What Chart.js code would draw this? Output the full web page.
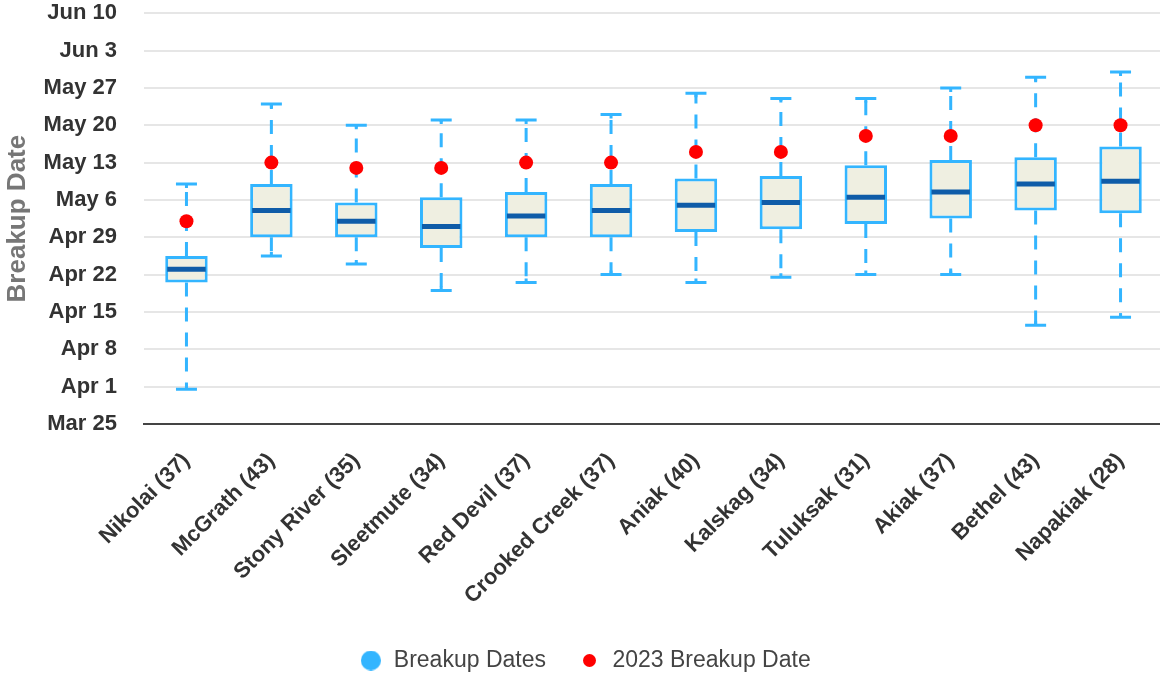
<!DOCTYPE html>
<html>
<head>
<meta charset="UTF-8">
<title>Breakup Dates</title>
<style>
	html, body { margin: 0; padding: 0; background: #fff; overflow: hidden; }
	/* the chart is a bit larger than the window, the right and bottom edges are cut off */
	#wrap { width: 1170px; height: 682px; }
</style>
</head>
<body>
	<div id="wrap"><canvas id="boxChart"></canvas></div>
</body>
<script src="https://cdn.jsdelivr.net/npm/chart.js@4.4.1/dist/chart.umd.min.js"></script>
<script type="text/javascript">
// all values are days after Mar 25
const villages = ['Nikolai (37)', 'McGrath (43)', 'Stony River (35)', 'Sleetmute (34)', 'Red Devil (37)', 'Crooked Creek (37)',
	'Aniak (40)', 'Kalskag (34)', 'Tuluksak (31)', 'Akiak (37)', 'Bethel (43)', 'Napakiak (28)'];
const whiskerLow  = [6.5, 31.5, 30, 25, 26.5, 28, 26.5, 27.5, 28, 28, 18.5, 20];
const quartile1   = [26.5, 35, 35, 33, 35, 35, 36, 36.5, 37.5, 38.5, 40, 39.5];
const medians     = [29, 40, 38, 37, 39, 40, 41, 41.5, 42.5, 43.5, 45, 45.5];
const quartile3   = [31.5, 45, 41.5, 42.5, 43.5, 45, 46, 46.5, 48.5, 49.5, 50, 52];
const whiskerHigh = [45, 60, 56, 57, 57, 58, 62, 61, 61, 63, 65, 66];
const breakup2023 = [38, 49, 48, 48, 49, 49, 51, 51, 54, 54, 56, 56];
const yTickLabels = ['Mar 25', 'Apr 1', 'Apr 8', 'Apr 15', 'Apr 22', 'Apr 29', 'May 6', 'May 13', 'May 20', 'May 27', 'Jun 3', 'Jun 10'];

const boxBlue = '#33b5ff';
const medianBlue = '#0f5ca8';
const FONT = '"Liberation Sans", Arial, sans-serif';

// legend dots of different size
function dot(r, color) {
	let c = document.createElement('canvas');
	c.width = c.height = Math.ceil(r * 2);
	let g = c.getContext('2d');
	g.fillStyle = color;
	g.beginPath();
	g.arc(c.width / 2, c.height / 2, r, 0, Math.PI * 2);
	g.fill();
	return c;
}

// whiskers + median for the box plot
const boxPlotLines = {
	id: 'boxPlotLines',
	beforeDatasetsDraw(chart) {
		let ctx = chart.ctx;
		let y = chart.scales.y;
		let bars = chart.getDatasetMeta(0).data;
		ctx.save();
		ctx.strokeStyle = boxBlue;
		ctx.lineWidth = 3;
		bars.forEach(function(bar, i) {
			let yLow = y.getPixelForValue(whiskerLow[i]);
			let yHigh = y.getPixelForValue(whiskerHigh[i]);
			ctx.setLineDash([14, 11]);
			ctx.beginPath();
			ctx.moveTo(bar.x, y.getPixelForValue(quartile1[i]));
			ctx.lineTo(bar.x, yLow);
			ctx.moveTo(bar.x, y.getPixelForValue(quartile3[i]));
			ctx.lineTo(bar.x, yHigh);
			ctx.stroke();
			ctx.setLineDash([]);
			ctx.beginPath();
			ctx.moveTo(bar.x, yLow - 4);
			ctx.lineTo(bar.x, yLow);
			ctx.moveTo(bar.x - 10.5, yLow);
			ctx.lineTo(bar.x + 10.5, yLow);
			ctx.moveTo(bar.x, yHigh + 4);
			ctx.lineTo(bar.x, yHigh);
			ctx.moveTo(bar.x - 10.5, yHigh);
			ctx.lineTo(bar.x + 10.5, yHigh);
			ctx.stroke();
		});
		ctx.restore();
	},
	afterDatasetDraw(chart, args) {
		if (args.index !== 0) return;
		let ctx = chart.ctx;
		let y = chart.scales.y;
		ctx.save();
		ctx.strokeStyle = medianBlue;
		ctx.lineWidth = 5;
		chart.getDatasetMeta(0).data.forEach(function(bar, i) {
			let ym = y.getPixelForValue(medians[i]);
			ctx.beginPath();
			ctx.moveTo(bar.x - bar.width / 2 + 2, ym);
			ctx.lineTo(bar.x + bar.width / 2 - 2, ym);
			ctx.stroke();
		});
		ctx.restore();
	}
};

let ctx = document.getElementById('boxChart');
let chart = new Chart(ctx, {
	type: 'bar',
	data: {
		labels: villages,
		datasets: [{
			label: 'Breakup Dates',
			data: quartile1.map(function(q, i) { return [q, quartile3[i]]; }),
			backgroundColor: '#efefe1',
			borderColor: boxBlue,
			borderWidth: 3,
			borderSkipped: false,
			categoryPercentage: 1,
			barPercentage: 0.5,
			order: 2
		}, {
			type: 'line',
			label: '2023 Breakup Date',
			data: breakup2023,
			showLine: false,
			pointRadius: 7,
			pointHoverRadius: 7,
			pointBackgroundColor: '#ff0000',
			pointBorderWidth: 0,
			order: 1
		}]
	},
	options: {
		responsive: true,
		maintainAspectRatio: false,
		animation: false,
		layout: { padding: { top: 2, right: 0, bottom: 0, left: 0 } },
		plugins: {
			tooltip: { enabled: false },
			legend: {
				position: 'bottom',
				labels: {
					usePointStyle: true,
					padding: 32,
					color: '#444',
					font: { family: FONT, size: 23 },
					generateLabels: function() {
						return [
							{ text: 'Breakup Dates', pointStyle: dot(10, boxBlue), fillStyle: boxBlue, strokeStyle: 'rgba(0,0,0,0)', lineWidth: 0, datasetIndex: 0, fontColor: '#444' },
							{ text: '2023 Breakup Date', pointStyle: dot(6.5, '#ff0000'), fillStyle: '#ff0000', strokeStyle: 'rgba(0,0,0,0)', lineWidth: 0, datasetIndex: 1, fontColor: '#444' }
						];
					}
				}
			}
		},
		scales: {
			x: {
				grid: { display: false },
				border: { display: true, color: '#444', width: 2 },
				ticks: {
					color: '#333',
					font: { family: FONT, size: 22, weight: 'bold' },
					minRotation: 45,
					maxRotation: 45,
					padding: 16
				},
				afterFit: function(scale) { scale.height = 193; }
			},
			y: {
				min: 0,
				max: 77,
				border: { display: false },
				grid: {
					drawTicks: true,
					tickLength: 27,
					tickColor: 'rgba(0,0,0,0)',
					lineWidth: 2,
					color: function(c) { return c.tick && c.tick.value === 0 ? 'rgba(0,0,0,0)' : '#e6e6e6'; }
				},
				ticks: {
					stepSize: 7,
					padding: 0,
					color: '#333',
					font: { family: FONT, size: 22, weight: 'bold' },
					callback: function(v) { return yTickLabels[v / 7]; }
				},
				title: {
					display: true,
					text: 'Breakup Date',
					color: '#777',
					padding: { top: 2, bottom: 0 },
					font: { family: FONT, size: 26, weight: 'bold' }
				},
				afterFit: function(scale) { scale.width = 144; }
			}
		}
	},
	plugins: [boxPlotLines]
});
</script>
</html>
